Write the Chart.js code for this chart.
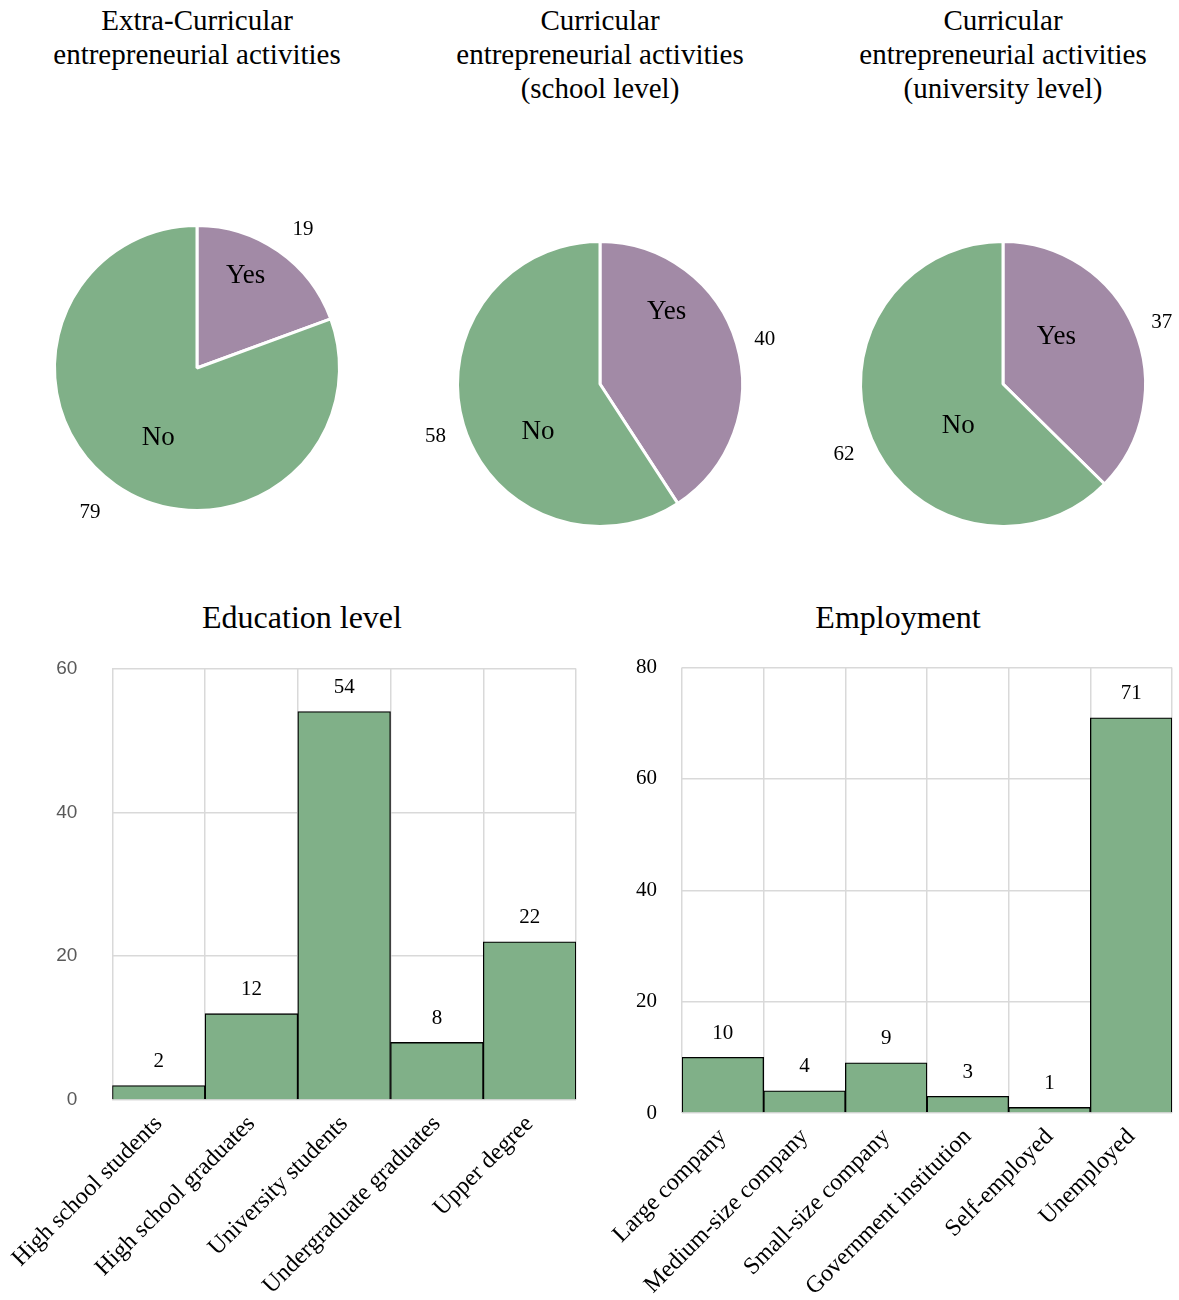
<!DOCTYPE html>
<html>
<head>
<meta charset="utf-8">
<script src="https://cdn.jsdelivr.net/npm/chart.js@4.4.1/dist/chart.umd.min.js"></script>
<style>
  body { margin: 0; background: #fff; overflow: hidden; }
  #page { position: relative; width: 1179px; height: 1300px; overflow: hidden; background: #fff; }
  .titulo { position: absolute; text-align: center; font-family: "Liberation Serif", serif; color: #000; }
  .pieTitle { font-size: 29px; line-height: 34px; width: 400px; top: 3px; }
  .barTitle { font-size: 32px; line-height: 36px; width: 500px; top: 599px; }
  canvas { position: absolute; }
</style>
</head>
<body>
<div id="page">
  <div class="titulo pieTitle" style="left:-3px">Extra-Curricular<br>entrepreneurial activities</div>
  <div class="titulo pieTitle" style="left:400px">Curricular<br>entrepreneurial activities<br>(school level)</div>
  <div class="titulo pieTitle" style="left:803px">Curricular<br>entrepreneurial activities<br>(university level)</div>
  <div class="titulo barTitle" style="left:52px">Education level</div>
  <div class="titulo barTitle" style="left:648px">Employment</div>

  <canvas id="pie1" width="380" height="380" style="left:7px;top:178px"></canvas>
  <canvas id="pie2" width="380" height="380" style="left:410px;top:194px"></canvas>
  <canvas id="pie3" width="380" height="380" style="left:813px;top:194px"></canvas>
  <!-- el padding de los ticks del eje y empuja el area hacia abajo, por eso suben los canvas -->
  <canvas id="eduChart" width="605" height="678" style="left:-5px;top:622px"></canvas>
  <canvas id="empChart" width="579" height="670" style="left:600px;top:630px"></canvas>
</div>
<script>
// datos
const pieLabels = ['Yes', 'No'];
const extraCurricular = [19, 79];
const schoolLevel = [40, 58];
const universityLevel = [37, 62];

const educationLevels = ['High school students', 'High school graduates', 'University students', 'Undergraduate graduates', 'Upper degree'];
const educationCounts = [2, 12, 54, 8, 22];
const educationTicks = [0, 20, 40, 60];

const employmentTypes = ['Large company', 'Medium-size company', 'Small-size company', 'Government institution', 'Self-employed', 'Unemployed'];
const employmentCounts = [10, 4, 9, 3, 1, 71];
const employmentTicks = [0, 20, 40, 60, 80];

const verde = '#80b088';
const morado = '#a28aa6';
const gris = '#d9d9d9';
const serif = '"Liberation Serif", "Times New Roman", serif';

// etiquetas dentro/fuera de las tartas
// spots: [fraccion del angulo de la porcion, fraccion del radio]
const etiquetasPie = {
  id: 'etiquetasPie',
  afterDatasetsDraw(chart, args, opts) {
    const ctx = chart.ctx;
    const meta = chart.getDatasetMeta(0);
    const values = chart.data.datasets[0].data;
    ctx.save();
    ctx.fillStyle = '#000';
    ctx.textAlign = 'center';
    ctx.textBaseline = 'middle';
    meta.data.forEach((arc, i) => {
      const p = arc.getProps(['x', 'y', 'startAngle', 'endAngle', 'outerRadius'], true);
      let [t, f] = opts.names[i];
      let a = p.startAngle + t * (p.endAngle - p.startAngle);
      ctx.font = '27px ' + serif;
      ctx.fillText(chart.data.labels[i], p.x + Math.cos(a) * p.outerRadius * f, p.y + Math.sin(a) * p.outerRadius * f);
      [t, f] = opts.values[i];
      a = p.startAngle + t * (p.endAngle - p.startAngle);
      ctx.font = '21px ' + serif;
      ctx.fillText(values[i], p.x + Math.cos(a) * p.outerRadius * f, p.y + Math.sin(a) * p.outerRadius * f + 2);
    });
    ctx.restore();
  }
};

// numeros encima de las barras
const valoresBarra = {
  id: 'valoresBarra',
  afterDatasetsDraw(chart) {
    const ctx = chart.ctx;
    const meta = chart.getDatasetMeta(0);
    ctx.save();
    ctx.font = '21px ' + serif;
    ctx.fillStyle = '#000';
    ctx.textAlign = 'center';
    ctx.textBaseline = 'middle';
    meta.data.forEach((bar, i) => {
      ctx.fillText(chart.data.datasets[0].data[i], bar.x, bar.y - 24);
    });
    ctx.restore();
  }
};

function makePie(id, values, names, valueSpots) {
  new Chart(document.getElementById(id), {
    type: 'pie',
    data: {
      labels: pieLabels,
      datasets: [{
        data: values,
        backgroundColor: [morado, verde],
        borderColor: '#ffffff',
        borderWidth: 3
      }]
    },
    options: {
      responsive: false,
      animation: false,
      devicePixelRatio: 1,
      layout: { padding: 46 },
      plugins: {
        legend: { display: false },
        tooltip: { enabled: false },
        etiquetasPie: { names: names, values: valueSpots }
      }
    },
    plugins: [etiquetasPie]
  });
}

makePie('pie1', extraCurricular, [[0.40, 0.73], [0.48, 0.56]], [[0.53, 1.235], [0.507, 1.25]]);
makePie('pie2', schoolLevel, [[0.29, 0.69], [0.40, 0.55]], [[0.506, 1.20], [0.498, 1.207]]);
makePie('pie3', universityLevel, [[0.36, 0.50], [0.41, 0.43]], [[0.506, 1.20], [0.498, 1.214]]);

function makeBar(id, cats, values, ticks, yAxis, xHeight) {
  new Chart(document.getElementById(id), {
    type: 'bar',
    data: {
      labels: cats,
      datasets: [{
        data: values,
        backgroundColor: verde,
        borderColor: '#000',
        borderWidth: 1.3,
        categoryPercentage: 1,
        barPercentage: 1
      }]
    },
    options: {
      responsive: false,
      animation: false,
      devicePixelRatio: 1,
      layout: { padding: { top: 0, right: yAxis.right, left: 0, bottom: 0 } },
      plugins: { legend: { display: false }, tooltip: { enabled: false } },
      scales: {
        x: {
          grid: { color: gris, lineWidth: 1.5, drawTicks: false, offset: true },
          border: { display: false },
          ticks: {
            autoSkip: false, maxRotation: 45, minRotation: 45, padding: 10,
            color: '#000', font: { family: serif, size: 24 }
          },
          afterFit: s => { s.height = xHeight; }
        },
        y: {
          min: ticks[0],
          max: ticks[ticks.length - 1],
          grid: { color: gris, lineWidth: 1.5, drawTicks: false },
          border: { display: false },
          ticks: {
            stepSize: ticks[1] - ticks[0], padding: yAxis.padding,
            color: yAxis.color, font: { family: yAxis.family, size: yAxis.size }
          },
          afterFit: s => { s.width = yAxis.width; }
        }
      }
    },
    plugins: [valoresBarra]
  });
}

makeBar('eduChart', educationLevels, educationCounts, educationTicks,
  { width: 113, padding: 35, right: 24, color: '#595959', family: '"Liberation Sans", Arial, sans-serif', size: 19 }, 200);

makeBar('empChart', employmentTypes, employmentCounts, employmentTicks,
  { width: 82, padding: 25, right: 7, color: '#000', family: serif, size: 21 }, 187);
</script>
</body>
</html>
